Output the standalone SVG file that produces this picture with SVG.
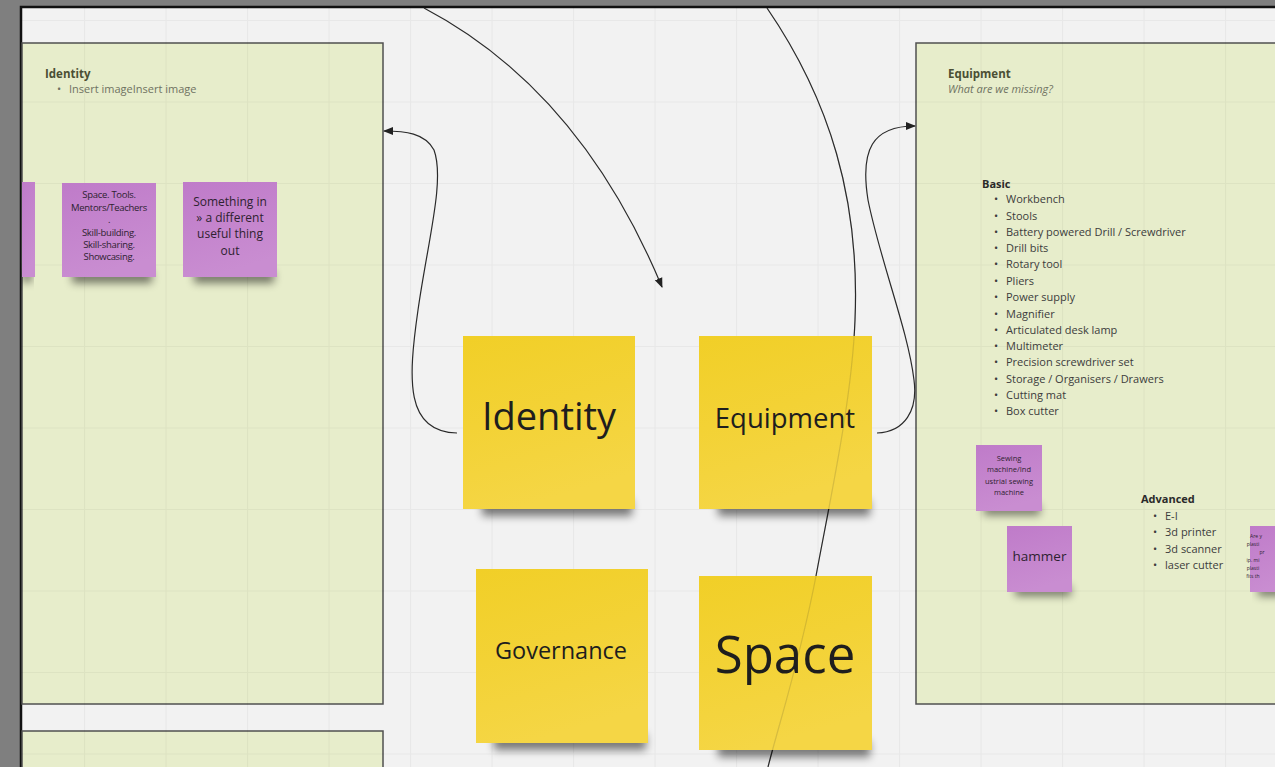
<svg xmlns="http://www.w3.org/2000/svg" width="1275" height="767" viewBox="0 0 1275 767">
<defs>
<pattern id="grid" patternUnits="userSpaceOnUse" x="2.5" y="20" width="81.5" height="81.5">
<path d="M0 0 V81.5 M0 0 H81.5" stroke="#000" stroke-opacity="0.045" stroke-width="2" fill="none"/>
</pattern>
<linearGradient id="yel" x1="0" y1="0" x2="0.3" y2="1">
<stop offset="0" stop-color="#f1cf27"/>
<stop offset="0.5" stop-color="#f3d235"/>
<stop offset="1" stop-color="#f5d645"/>
</linearGradient>
<linearGradient id="pur" x1="0" y1="0" x2="0.3" y2="1">
<stop offset="0" stop-color="#bf7bc9"/>
<stop offset="1" stop-color="#c98dd1"/>
</linearGradient>
<filter id="blur" x="-20%" y="-100%" width="140%" height="300%">
<feGaussianBlur stdDeviation="4"/>
</filter>
<marker id="arr" viewBox="0 0 10 10" refX="9" refY="5" markerWidth="10" markerHeight="10" markerUnits="userSpaceOnUse" orient="auto">
<path d="M0 1 L10 5 L0 9 Z" fill="#222"/>
</marker>
<style>
.panel{fill:#e7edcb;stroke:#505050;stroke-width:1.5}
.ptitle{font-family:"Open Sans","Liberation Sans",sans-serif;font-weight:bold;font-size:11.5px;fill:#4b4f34}
.psub{font-family:"Open Sans","Liberation Sans",sans-serif;font-size:11px;fill:#6f7262}
.lst{font-family:"Open Sans","Liberation Sans",sans-serif;font-size:11px;fill:#3c3c3c}
.hd{font-family:"Open Sans","Liberation Sans",sans-serif;font-weight:bold;font-size:11px;fill:#2a2a2a}
.ysticky{fill:url(#yel)}
.psticky{fill:url(#pur)}
.shadow{fill:#000;opacity:0.5;filter:url(#blur)}
.big{font-family:"Open Sans","Liberation Sans",sans-serif;fill:#1e1e1e;text-anchor:middle}
.ptxt{font-family:"Open Sans","Liberation Sans",sans-serif;fill:#2e2230;text-anchor:middle}
.conn{fill:none;stroke:#2a2a2a;stroke-width:1.2}
</style>
</defs>
<rect x="0" y="0" width="1275" height="767" fill="#7f7f7f"/>
<rect x="21" y="7" width="1260" height="770" fill="#f2f2f2" stroke="#111" stroke-width="2.5"/>

<g id="panel-identity">
<rect class="panel" x="22" y="43" width="361" height="661"/>
<text class="ptitle" x="45" y="78">Identity</text>
<text class="psub" x="57" y="93">•</text>
<text class="psub" x="69" y="93">Insert imageInsert image</text>
</g>
<g id="panel-bottom">
<rect class="panel" x="22" y="731" width="361" height="60"/>
</g>
<g id="panel-equipment">
<rect class="panel" x="916" y="43" width="380" height="661"/>
<text class="ptitle" x="948" y="78">Equipment</text>
<text class="psub" x="948" y="93" font-style="italic" fill="#5f6250">What are we missing?</text>
<text class="hd" x="982" y="188">Basic</text>
<g class="lst">
<text x="994" y="203">•</text><text x="1006" y="203">Workbench</text>
<text x="994" y="220">•</text><text x="1006" y="220">Stools</text>
<text x="994" y="236">•</text><text x="1006" y="236">Battery powered Drill / Screwdriver</text>
<text x="994" y="252">•</text><text x="1006" y="252">Drill bits</text>
<text x="994" y="268">•</text><text x="1006" y="268">Rotary tool</text>
<text x="994" y="285">•</text><text x="1006" y="285">Pliers</text>
<text x="994" y="301">•</text><text x="1006" y="301">Power supply</text>
<text x="994" y="318">•</text><text x="1006" y="318">Magnifier</text>
<text x="994" y="334">•</text><text x="1006" y="334">Articulated desk lamp</text>
<text x="994" y="350">•</text><text x="1006" y="350">Multimeter</text>
<text x="994" y="366">•</text><text x="1006" y="366">Precision screwdriver set</text>
<text x="994" y="383">•</text><text x="1006" y="383">Storage / Organisers / Drawers</text>
<text x="994" y="399">•</text><text x="1006" y="399">Cutting mat</text>
<text x="994" y="415">•</text><text x="1006" y="415">Box cutter</text>
</g>
<text class="hd" x="1141" y="503">Advanced</text>
<g class="lst">
<text x="1153" y="520">•</text><text x="1165" y="520">E-I</text>
<text x="1153" y="536">•</text><text x="1165" y="536">3d printer</text>
<text x="1153" y="553">•</text><text x="1165" y="553">3d scanner</text>
<text x="1153" y="569">•</text><text x="1165" y="569">laser cutter</text>
</g>
</g>

<rect x="21" y="7" width="1260" height="770" fill="url(#grid)"/>

<g id="connectors-under">
<path class="conn" d="M767 8 C830 100 860 200 855 320 C852 400 830 500 816 576 C800 660 780 720 768 767"/>
</g>

<g id="sticky-left-partial">
<rect class="shadow" x="22" y="272" width="10" height="10"/>
<rect class="psticky" x="22" y="182" width="13" height="95"/>
</g>
<g id="sticky-space-tools">
<rect class="shadow" x="72" y="271" width="80" height="12"/>
<rect class="psticky" x="62" y="183" width="94" height="94"/>
<g class="ptxt" font-size="9.5" letter-spacing="-0.3">
<text x="109" y="198">Space. Tools.</text>
<text x="109" y="211">Mentors/Teachers</text>
<text x="109" y="223">.</text>
<text x="109" y="236">Skill-building.</text>
<text x="109" y="248">Skill-sharing.</text>
<text x="109" y="260">Showcasing.</text>
</g>
</g>
<g id="sticky-something">
<rect class="shadow" x="194" y="271" width="80" height="12"/>
<rect class="psticky" x="183" y="182" width="94" height="95"/>
<text class="ptxt" font-size="12" x="230" y="206">Something in</text>
<text class="ptxt" font-size="12" x="230" y="222">» a different</text>
<text class="ptxt" font-size="12" x="230" y="238">useful thing</text>
<text class="ptxt" font-size="12" x="230" y="255">out</text>
</g>
<g id="sticky-sewing">
<rect class="shadow" x="984" y="505" width="56" height="10"/>
<rect class="psticky" x="976" y="445" width="66" height="66"/>
<text class="ptxt" font-size="7.5" x="1009" y="461">Sewing</text>
<text class="ptxt" font-size="7.5" x="1009" y="472">machine/Ind</text>
<text class="ptxt" font-size="7.5" x="1009" y="484">ustrial sewing</text>
<text class="ptxt" font-size="7.5" x="1009" y="495">machine</text>
</g>
<g id="sticky-hammer">
<rect class="shadow" x="1015" y="586" width="56" height="10"/>
<rect class="psticky" x="1007" y="526" width="65" height="66"/>
<text class="ptxt" font-size="13.5" x="1039.5" y="561">hammer</text>
</g>
<g id="sticky-right-partial">
<rect class="shadow" x="1258" y="586" width="30" height="10"/>
<rect class="psticky" x="1250" y="526" width="40" height="66"/>
<g class="ptxt" font-size="5" text-anchor="start">
<text x="1256" y="538">Are y</text>
<text x="1253" y="546">plasti</text>
<text x="1262" y="554">pr</text>
<text x="1253" y="562">ip. mi</text>
<text x="1253" y="570">plasti</text>
<text x="1253" y="578">fits th</text>
</g>
</g>

<g id="sticky-identity">
<rect class="shadow" x="482" y="500" width="150" height="16"/>
<rect class="ysticky" x="463" y="336" width="172" height="173"/>
<text class="big" font-size="38" x="549" y="430">Identity</text>
</g>
<g id="sticky-equipment">
<rect class="shadow" x="718" y="500" width="152" height="16"/>
<rect class="ysticky" x="699" y="336" width="173" height="173"/>
<text class="big" font-size="27.5" x="785" y="428">Equipment</text>
</g>
<g id="sticky-governance">
<rect class="shadow" x="494" y="734" width="152" height="16"/>
<rect class="ysticky" x="476" y="569" width="172" height="174"/>
<text class="big" font-size="23.5" x="561" y="659">Governance</text>
</g>
<g id="sticky-space">
<rect class="shadow" x="718" y="741" width="152" height="16"/>
<rect class="ysticky" x="699" y="576" width="173" height="174"/>
<text class="big" font-size="51" x="785" y="673">Space</text>
</g>

<g id="connectors">
<path class="conn" stroke-opacity="0.15" d="M767 8 C830 100 860 200 855 320 C852 400 830 500 816 576 C800 660 780 720 768 767"/>
<path class="conn" d="M424 8 Q580 90 662 287" marker-end="url(#arr)"/>
<path class="conn" d="M457 433 C405 432 408 380 418 310 C428 240 445 180 434 150 C425 133 405 131 384 131" marker-end="url(#arr)"/>
<path class="conn" d="M877 433 C905 432 918 410 914 380 C908 330 880 260 868 200 C860 150 872 126 915 126" marker-end="url(#arr)"/>
</g>
</svg>
